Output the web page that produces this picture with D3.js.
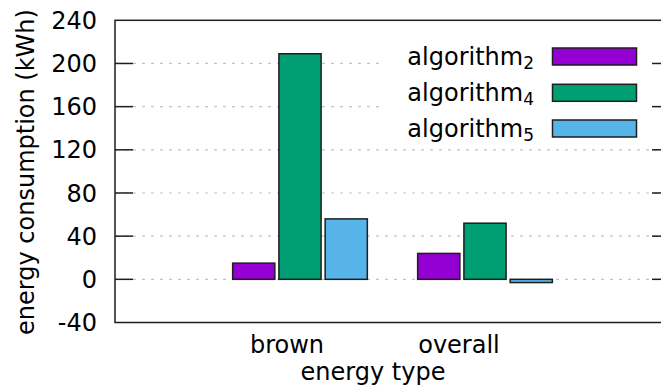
<!DOCTYPE html>
<html>
<head>
<meta charset="utf-8">
<script src="https://cdn.jsdelivr.net/npm/d3@7"></script>
<style>
  html, body { margin: 0; padding: 0; background: #fff; }
  svg { display: block; font-family: "DejaVu Sans", sans-serif; }
</style>
</head>
<body>
<svg id="chart" width="661" height="392"></svg>
<script>
// ---- data ----
const categories = ["brown", "overall"];
const seriesNames = ["algorithm", "algorithm", "algorithm"];
const seriesSubs = ["2", "4", "5"];
const seriesColors = ["#9400d3", "#009e73", "#56b4e9"];
const algorithm2 = [15, 24];
const algorithm4 = [209, 52];
const algorithm5 = [56, -3];
const yTicks = [-40, 0, 40, 80, 120, 160, 200, 240];
const xTitle = "energy type";
const yTitle = "energy consumption (kWh)";

const seriesValues = [algorithm2, algorithm4, algorithm5];

// ---- layout ----
const svg = d3.select("#chart");
const plotL = 115, plotR = 670, plotT = 20.3, plotB = 322.5;
const fontSize = 24;

const x = d3.scaleLinear().domain([-1, categories.length]).range([plotL, plotR]);
const y = d3.scaleLinear().domain([-40, 240]).range([plotB, plotT]);

const barOffset = 0.25, barWidth = 0.228;

// grid
const grid = svg.append("g");
grid.selectAll("line").data(yTicks.filter(t => t > -40 && t < 240)).join("line")
  .attr("x1", plotL).attr("x2", plotR)
  .attr("y1", d => y(d)).attr("y2", d => y(d))
  .attr("stroke", "#c4c4c4").attr("stroke-width", 1.2)
  .attr("stroke-dasharray", "3,6");

// bars
seriesValues.forEach((vals, si) => {
  svg.append("g").selectAll("rect").data(vals).join("rect")
    .attr("x", (d, i) => x(i + (si - 1) * barOffset - barWidth / 2))
    .attr("width", x(barWidth) - x(0))
    .attr("y", d => Math.min(y(d), y(0)))
    .attr("height", d => Math.abs(y(d) - y(0)))
    .attr("fill", seriesColors[si])
    .attr("stroke", "#1e1e1e").attr("stroke-width", 1.5);
});

// legend background
svg.append("rect").attr("x", 380).attr("y", 32).attr("width", 290).attr("height", 113)
  .attr("fill", "#fff");

// legend
const legendRowY = [56.5, 92.8, 128.5];
seriesNames.forEach((name, si) => {
  const cy = legendRowY[si];
  const t = svg.append("text")
    .attr("x", 534).attr("y", cy + 8.5)
    .attr("text-anchor", "end")
    .attr("font-size", fontSize).attr("fill", "#000");
  t.append("tspan").text(name);
  t.append("tspan").attr("font-size", 17).attr("dy", 3.5).text(seriesSubs[si]);
  svg.append("rect")
    .attr("x", 552.5).attr("y", cy - 8.5).attr("width", 84).attr("height", 17)
    .attr("fill", seriesColors[si]).attr("stroke", "#1e1e1e").attr("stroke-width", 1.5);
});

// y axis ticks (left and right, inward)
const ticksG = svg.append("g");
yTicks.filter(t => t > -40 && t < 240).forEach(t => {
  ticksG.append("line").attr("x1", plotL).attr("x2", plotL + 18)
    .attr("y1", y(t)).attr("y2", y(t)).attr("stroke", "#1e1e1e").attr("stroke-width", 1.5);
  ticksG.append("line").attr("x1", plotR).attr("x2", plotR - 18)
    .attr("y1", y(t)).attr("y2", y(t)).attr("stroke", "#1e1e1e").attr("stroke-width", 1.5);
});

// frame
svg.append("rect").attr("x", plotL).attr("y", plotT)
  .attr("width", plotR - plotL).attr("height", plotB - plotT)
  .attr("fill", "none").attr("stroke", "#1e1e1e").attr("stroke-width", 1.5);

// y tick labels
svg.append("g").selectAll("text").data(yTicks).join("text")
  .attr("x", 97).attr("y", d => y(d)).attr("dy", "0.36em")
  .attr("text-anchor", "end").attr("font-size", fontSize).attr("fill", "#000")
  .text(d => d);

// x tick labels
const labelShift = [-13, -26];
svg.append("g").selectAll("text").data(categories).join("text")
  .attr("x", (d, i) => x(i) + labelShift[i]).attr("y", 353)
  .attr("text-anchor", "middle").attr("font-size", fontSize).attr("fill", "#000")
  .text(d => d);

// axis titles
svg.append("text").attr("x", 373).attr("y", 380)
  .attr("text-anchor", "middle").attr("font-size", fontSize).attr("fill", "#000")
  .text(xTitle);
svg.append("text").attr("transform", "translate(33.5,172) rotate(-90)")
  .attr("text-anchor", "middle").attr("font-size", fontSize).attr("fill", "#000")
  .text(yTitle);
</script>
</body>
</html>
